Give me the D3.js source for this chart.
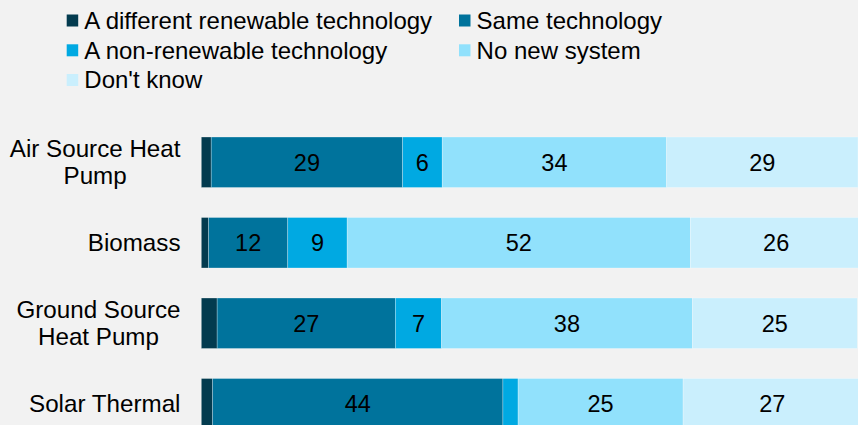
<!DOCTYPE html>
<html>
<head>
<meta charset="utf-8">
<script src="https://cdn.jsdelivr.net/npm/d3@7"></script>
<style>
  html, body { margin: 0; padding: 0; background: #f2f2f2; overflow: hidden; }
  svg { display: block; font-family: "Liberation Sans", Arial, sans-serif; }
</style>
</head>
<body>
<svg id="chart" width="858" height="425"></svg>
<script>
// Heating systems: what respondents would replace them with (%)
const categories = [
  ["Air Source Heat", "Pump"],
  ["Biomass"],
  ["Ground Source", "Heat Pump"],
  ["Solar Thermal"]
];
const seriesNames = [
  "A different renewable technology",
  "Same technology",
  "A non-renewable technology",
  "No new system",
  "Don't know"
];
const differentRenewable = [1.5, 1.1, 2.4, 1.7];
const sameTechnology     = [29, 12, 27, 44];
const nonRenewable       = [6, 9, 7, 2.3];
const noNewSystem        = [34, 52, 38, 25];
const dontKnow           = [29, 26, 25, 27];
const seriesColors = ["#033b4f", "#00739c", "#00a9e2", "#91e1fc", "#caeffd"];

const series = [differentRenewable, sameTechnology, nonRenewable, noNewSystem, dontKnow];
const catKeys = categories.map(c => c.join(" "));

const svg = d3.select("#chart");
const W = 858, H = 425;
svg.append("rect").attr("width", W).attr("height", H).attr("fill", "#f2f2f2");

const x = d3.scaleLinear().domain([0, 100]).range([201.3, 861.3]);
const y = d3.scaleBand().domain(catKeys).range([122, 444])
  .paddingInner(0.373).paddingOuter(0.1865);

// stacked segments
const rows = catKeys.map((k, i) => {
  const r = { key: k };
  seriesNames.forEach((s, j) => { r[s] = series[j][i]; });
  return r;
});
const stacked = d3.stack().keys(seriesNames)(rows);

const layers = svg.append("g").selectAll("g")
  .data(stacked).join("g")
  .attr("fill", (d, i) => seriesColors[i]);

layers.selectAll("rect")
  .data(d => d)
  .join("rect")
  .attr("x", d => x(d[0]))
  .attr("y", d => y(d.data.key))
  .attr("width", d => x(d[1]) - x(d[0]))
  .attr("height", y.bandwidth())
  .attr("stroke", "#ffffff")
  .attr("stroke-opacity", 0.45)
  .attr("stroke-width", 0.6);

// value labels inside segments
layers.selectAll("text")
  .data(d => d.filter(p => p[1] - p[0] >= 5))
  .join("text")
  .attr("x", d => (x(d[0]) + x(d[1])) / 2)
  .attr("y", d => y(d.data.key) + y.bandwidth() / 2 + 8.4)
  .attr("text-anchor", "middle")
  .attr("fill", "#000")
  .attr("font-size", "23.5px")
  .text(d => d3.format(".0f")(d[1] - d[0]));

// category labels: block right-aligned, lines centred within it
const labelRight = 180.5;
const lineH = 26.6;
categories.forEach((lines, i) => {
  const cy = y(catKeys[i]) + y.bandwidth() / 2;
  const g = svg.append("g");
  const texts = lines.map((t, j) => g.append("text")
    .attr("font-size", "24.2px")
    .attr("fill", "#000")
    .attr("text-anchor", "middle")
    .attr("y", cy + 8.5 + (j - (lines.length - 1) / 2) * lineH)
    .text(t));
  const maxW = d3.max(texts, t => t.node().getComputedTextLength());
  texts.forEach(t => t.attr("x", labelRight - maxW / 2));
});

// legend
const legendCols = [66.7, 459];
const legendRows = [20.5, 50.3, 80];
const legend = svg.append("g");
seriesNames.forEach((name, i) => {
  const cx = legendCols[i % 2];
  const cy = legendRows[Math.floor(i / 2)];
  legend.append("rect")
    .attr("x", cx).attr("y", cy - 6)
    .attr("width", 11.5).attr("height", 12)
    .attr("fill", seriesColors[i]);
  legend.append("text")
    .attr("x", cx + 17.6).attr("y", cy + 8.4)
    .attr("font-size", "24px")
    .attr("fill", "#000")
    .text(name);
});
</script>
</body>
</html>
